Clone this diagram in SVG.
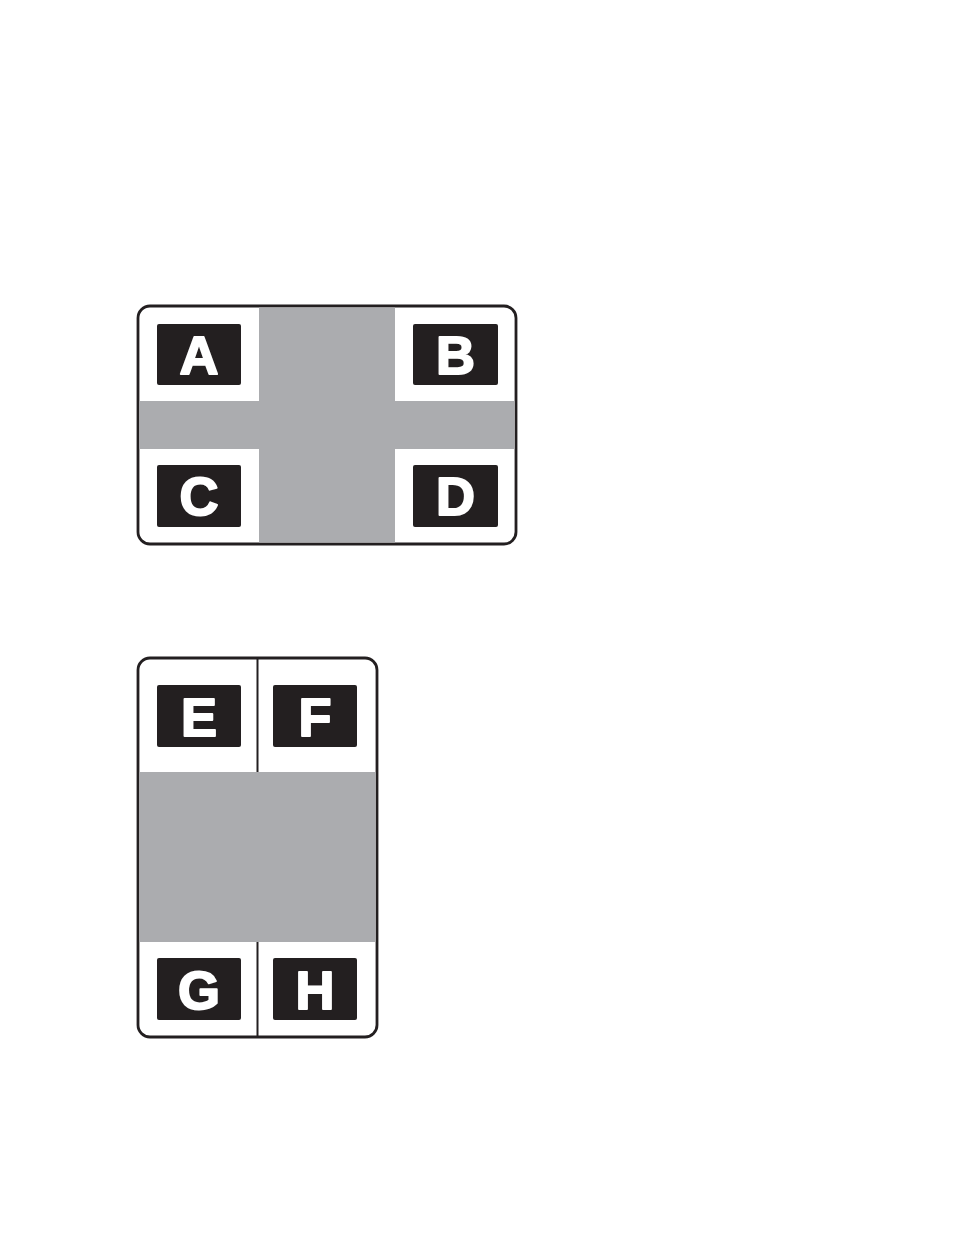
<svg xmlns="http://www.w3.org/2000/svg" width="954" height="1235" viewBox="0 0 954 1235">
<style>
.card{fill:#fff;stroke:#231f20;stroke-width:2.8}
.gray{fill:#abacaf}
.box{fill:#231f20}
.lbl{fill:#fff;stroke:#fff;stroke-width:2;stroke-linejoin:round;font-family:"Liberation Sans",Arial,sans-serif;font-weight:bold;font-size:54px;text-anchor:middle}
.div{stroke:#231f20;stroke-width:2}
</style>
<rect width="954" height="1235" fill="#fff"/>
<g id="card1">
<rect class="card" x="138" y="306" width="378" height="238" rx="12"/>
<rect class="gray" x="259" y="307.5" width="136" height="235"/>
<rect class="gray" x="139.5" y="401" width="375" height="48"/>
</g>
<g id="A"><rect class="box" x="157" y="324" width="84" height="61" rx="2"/><text class="lbl" x="199" y="374">A</text></g>
<g id="B"><rect class="box" x="413" y="324" width="85" height="61" rx="2"/><text class="lbl" x="455.5" y="374">B</text></g>
<g id="C"><rect class="box" x="157" y="465" width="84" height="62" rx="2"/><text class="lbl" x="199" y="515">C</text></g>
<g id="D"><rect class="box" x="413" y="465" width="85" height="62" rx="2"/><text class="lbl" x="455.5" y="515">D</text></g>
<g id="card2">
<rect class="card" x="138" y="658" width="239" height="379" rx="12"/>
<rect class="gray" x="139.5" y="772" width="236" height="170"/>
<line class="div" x1="257.5" y1="659" x2="257.5" y2="772"/>
<line class="div" x1="257.5" y1="942" x2="257.5" y2="1036"/>
</g>
<g id="E"><rect class="box" x="157" y="685" width="84" height="62" rx="2"/><text class="lbl" x="199" y="736">E</text></g>
<g id="F"><rect class="box" x="273" y="685" width="84" height="62" rx="2"/><text class="lbl" x="315" y="736">F</text></g>
<g id="G"><rect class="box" x="157" y="958" width="84" height="62" rx="2"/><text class="lbl" x="199" y="1009">G</text></g>
<g id="H"><rect class="box" x="273" y="958" width="84" height="62" rx="2"/><text class="lbl" x="315" y="1009">H</text></g>
<g id="connectors"/>
</svg>
